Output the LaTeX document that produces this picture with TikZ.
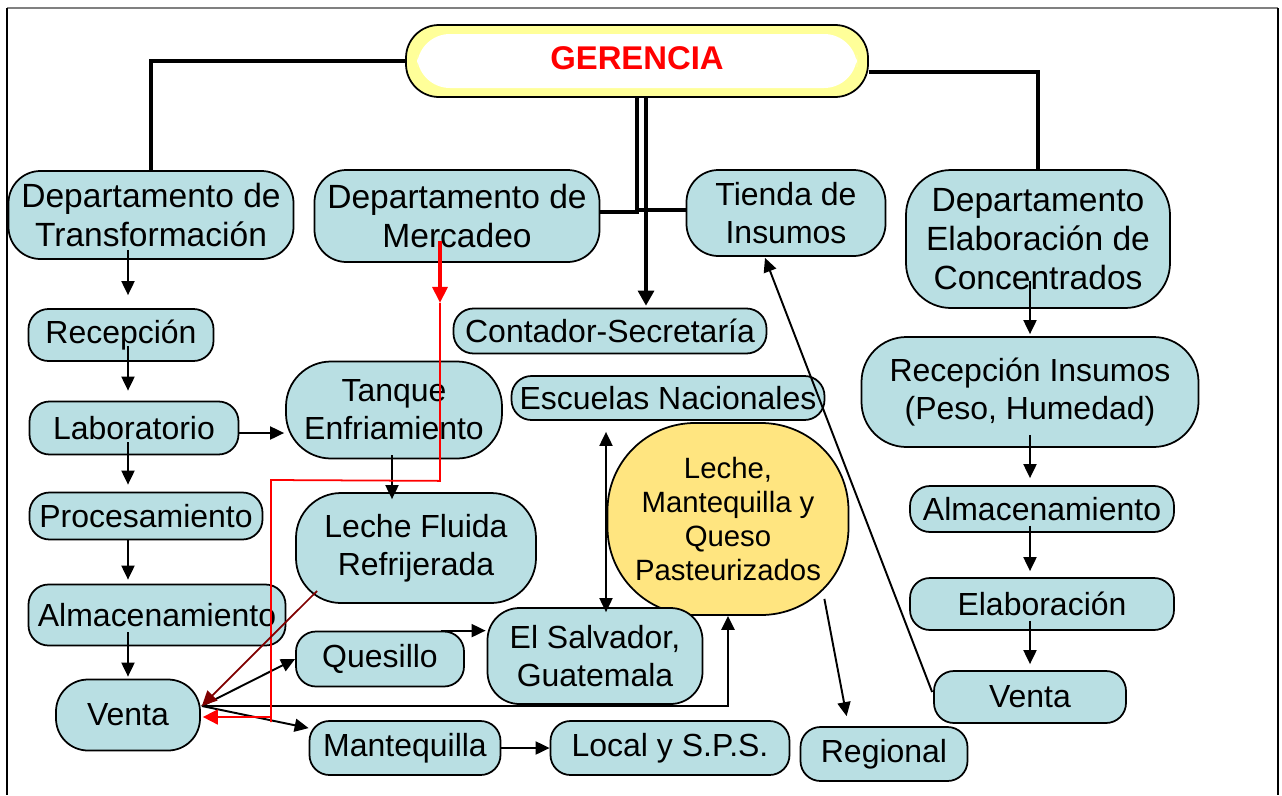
\documentclass[tikz,border=0pt]{standalone}
\usepackage{fontspec}
\setmainfont{Liberation Sans}
\usetikzlibrary{calc,arrows.meta}

\definecolor{celeste}{RGB}{185,223,227}
\definecolor{amarillo}{RGB}{255,229,128}
\definecolor{amarilloclaro}{RGB}{255,255,153}
\definecolor{guinda}{RGB}{128,0,0}

\newcommand\letra{\fontsize{18.2}{21.6}\selectfont}
\newcommand\letragrande{\fontsize{19.1}{22}\selectfont}
\newcommand\letrachica{\fontsize{16.7}{19.3}\selectfont}
\newcommand\letrager{\bfseries\fontsize{18.7}{22}\selectfont}

\tikzset{
  sz/.style 2 args={minimum width=#1*0.02cm, minimum height=#2*0.02cm},
  caja/.style={draw, line width=1pt, fill=celeste, align=center, inner sep=0pt,
    rounded corners=0.4cm, font=\letra},
  cajagrande/.style={caja, rounded corners=0.64cm},
  cajaalta/.style={caja, rounded corners=0.9cm},
  gerencia/.style={draw, line width=1pt, fill=amarilloclaro, rounded corners=0.66cm,
    inner sep=0pt, text=red, font=\letrager,
    path picture={\fill[white] ($(path picture bounding box.south west)+(0.22cm,0.18cm)$)
      rectangle ($(path picture bounding box.north east)+(-0.22cm,-0.18cm)$);}},
  linea/.style={line width=1.8pt},
  lineafl/.style={line width=1.8pt, -{Triangle[length=0.3cm,width=0.32cm]}},
  flecha/.style={line width=1.1pt, -{Triangle[length=0.28cm,width=0.26cm]}},
  dobleflecha/.style={line width=1.1pt, {Triangle[length=0.28cm,width=0.26cm]}-{Triangle[length=0.28cm,width=0.26cm]}},
  rojogrueso/.style={red, line width=1.8pt, -{Triangle[length=0.32cm,width=0.3cm]}},
  rojo/.style={red, line width=1pt},
  rojofl/.style={red, line width=1pt, -{Triangle[length=0.3cm,width=0.3cm]}},
  guindafl/.style={guinda, line width=1pt, -{Triangle[length=0.3cm,width=0.28cm]}}
}

\begin{document}
\begin{tikzpicture}[x=0.02cm, y=-0.02cm]
  \useasboundingbox (0,0) rectangle (1282,795);
  % marco de la hoja
  \draw[gray, line width=1.2pt] (7,8) -- (1278,8);
  \draw[line width=0.8pt] (7,8) -- (7,795) (1278,8) -- (1278,795);

  % nodos
  \node[gerencia, sz={462}{72}] (ger) at (637,61) {\raisebox{0.12cm}{GERENCIA}};
  \node[cajagrande, sz={285}{88}, font=\letragrande] (trans) at (151,215) {Departamento de\\Transformación};
  \node[cajagrande, sz={285}{92}, font=\letragrande] (merc) at (457,216) {Departamento de\\Mercadeo};
  \node[cajagrande, sz={199}{86}] (tienda) at (786,213) {Tienda de\\Insumos};
  \node[cajaalta, sz={264}{138}, font=\letragrande] (depelab) at (1038,239) {Departamento\\Elaboración de\\Concentrados};
  \node[caja, sz={185}{52}] (recep) at (121,335) {Recepción};
  \node[caja, sz={313}{45}] (conta) at (610,331) {Contador-Secretaría};
  \node[cajaalta, sz={216}{97}] (tanque) at (394,410) {Tanque\\Enfriamiento};
  \node[caja, sz={313}{44}] (escuelas) at (668,398) {Escuelas Nacionales};
  \node[cajaalta, sz={337}{110}] (recins) at (1030,392) {Recepción Insumos\\(Peso, Humedad)};
  \node[caja, sz={209}{53}] (lab) at (134,428) {Laboratorio};
  \node[caja, fill=amarillo, rounded corners=1.75cm, sz={241}{192}, font=\letrachica] (leche) at (728,519)
    {Leche,\\Mantequilla y\\Queso\\Pasteurizados};
  \node[caja, sz={233}{47}] (proc) at (146,516) {Procesamiento};
  \node[cajaalta, sz={240}{110}] (fluida) at (416,548) {Leche Fluida\\Refrijerada};
  \node[caja, sz={257}{61}] (alm) at (157,615) {Almacenamiento};
  \node[caja, sz={168}{55}] (quesillo) at (380,659) {Quesillo};
  \node[cajagrande, sz={215}{96}] (salvador) at (595,656) {El Salvador,\\Guatemala};
  \node[cajagrande, sz={144}{71}] (venta) at (128,715) {Venta};
  \node[caja, sz={191}{54}] (mante) at (405,748) {Mantequilla};
  \node[caja, sz={239}{54}] (local) at (670,748) {Local y S.P.S.};
  \node[caja, sz={167}{54}] (regional) at (884,754) {Regional};
  \node[caja, sz={264}{46}] (almR) at (1042,509) {Almacenamiento};
  \node[caja, sz={264}{52}] (elabo) at (1042,604) {Elaboración};
  \node[caja, sz={192}{52}] (ventaR) at (1030,697) {Venta};

  % lineas de la gerencia
  \draw[linea] (ger.west) -| (trans.north);
  \draw[linea] ($(ger.east)+(0,11)$) -| (depelab.north);
  \draw[linea] (ger.south) |- ($(merc.east)+(0,-4)$);
  \draw[linea] (ger.south) |- ($(tienda.west)+(0,-3)$);
  \draw[lineafl] ($(ger.south)+(9,0)$) -- ($(conta.north)+(36,-2)$);

  % columna izquierda
  \draw[flecha] ($(trans.south -| venta)+(0,-10)$) -- ($(recep.north -| venta)+(0,-13)$);
  \draw[flecha] ($(recep.south -| venta)+(0,-16)$) -- ($(lab.north -| venta)+(0,-10)$);
  \draw[flecha] ($(lab.south -| venta)+(0,-13)$) -- ($(proc.north -| venta)+(0,-7)$);
  \draw[flecha] (proc.south -| venta) -- ($(alm.north -| venta)+(0,-4)$);
  \draw[flecha] ($(alm.south -| venta)+(0,-14)$) -- ($(venta.north)+(0,-2)$);
  \draw[flecha] ($(lab.east)+(0,5)$) -- ($(tanque.west |- lab.east)+(-1,5)$);
  \draw[flecha] ($(tanque.south)+(-2,-4)$) -- ($(tanque.south |- fluida.north)+(-2,7)$);

  % salidas de la venta
  \coordinate (vsal) at ($(venta.east)+(1,-9)$);
  \draw[flecha] (vsal) -- (quesillo.west);
  \draw[flecha] (vsal) -- (mante);
  \draw[line width=1.3pt, -{Triangle[length=0.28cm,width=0.26cm]}] (vsal) -| (leche.south);
  \draw[flecha] ($(quesillo.north)+(61,0)$) -- ($(quesillo.north -| salvador.west)+(-1,0)$);
  \draw[flecha] (mante) -- (local);
  \draw[dobleflecha] ($(escuelas.south -| salvador)+(11,11)$) -- ($(salvador.north)+(11,5)$);
  \draw[flecha] ($(leche.south east)+(-25,-17)$) -- ($(regional.north west)+(47,-10)$);
  \draw[flecha] ($(ventaR.west)+(-1,-5)$) -- ($(tienda.south)+(-21,1)$);

  % columna derecha
  \draw[flecha] ($(depelab.south -| recins)+(0,-28)$) -- ($(recins.north)+(0,-2)$);
  \draw[flecha] ($(recins.south)+(0,-13)$) -- ($(almR.north -| recins)+(0,-7)$);
  \draw[flecha] ($(almR.south -| recins)+(0,-7)$) -- ($(elabo.north -| recins)+(0,-6)$);
  \draw[flecha] ($(elabo.south -| recins)+(0,-10)$) -- ($(ventaR.north)+(0,-6)$);

  % recorrido rojo del mercadeo
  \coordinate (r1) at ($(merc.south)+(-17,40)$);
  \coordinate (r2) at ($(r1)+(0,178)$);
  \coordinate (r3) at (271,480);
  \coordinate (rv) at ($(venta.east)+(2,2)$);
  \draw[rojogrueso] ($(merc.south)+(-17,-22)$) -- (r1);
  \draw[rojo] (r1) -- (r2) -- (r3) -- ($(r3 |- rv)+(0,5)$);
  \draw[rojofl] (r3 |- rv) -- (rv);
  \draw[guindafl] ($(fluida.south west)+(22,-13)$) -- (vsal);
\end{tikzpicture}
\end{document}
